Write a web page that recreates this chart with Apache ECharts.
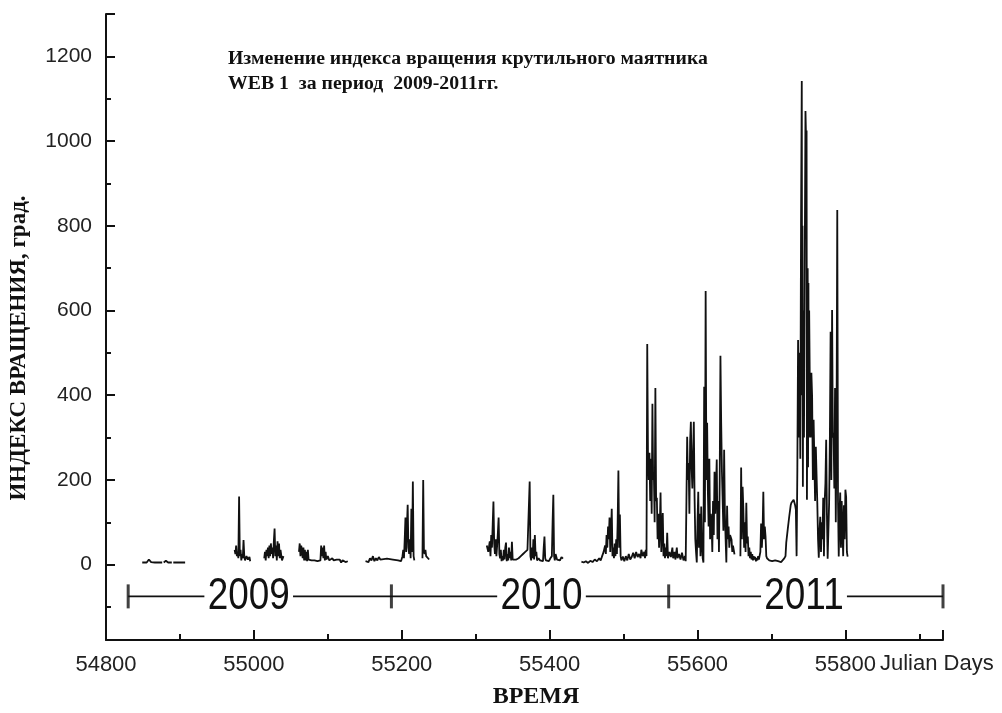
<!DOCTYPE html>
<html><head><meta charset="utf-8">
<script src="https://cdn.jsdelivr.net/npm/echarts@6/dist/echarts.min.js"></script>
<style>html,body{margin:0;padding:0;background:#fff}#c{width:1002px;height:713px}</style>
</head><body><div id="c"></div>
<script>
// ---- texts ----
const titleLines = ['Изменение индекса вращения крутильного маятника', 'WEB 1  за период  2009-2011гг.'];
const yAxisName = 'ИНДЕКС ВРАЩЕНИЯ, град.';
const xAxisTitle = 'ВРЕМЯ';
const xUnitLabel = 'Julian Days';
const xTickLabels = [54800, 55000, 55200, 55400, 55600, 55800];
const yTickLabels = [0, 200, 400, 600, 800, 1000, 1200];
// ---- year bar ----
const yearLabels = ['2009', '2010', '2011'];
const yearLabelDays = [54993, 55389, 55744];
const yearBoundDays = [54830, 55186, 55561, 55932];
const yearBarLevel = -75;
// ---- data segments [Julian day, index] ----
const seg1 = [[54849,5],[54855,5],[54858,12],[54861,6],[54866,5],[54872,5],[54876,5]];
const seg2 = [[54878,5],[54881,9],[54884,5],[54889,5]];
const seg3 = [[54891,5],[54899,5],[54907,5]];
const seg4 = [[54974,35],[54975,25],[54976,45],[54977,20],[54978,30],[54979,15],[54980,161],[54981,20],[54982,35],[54983,10],[54984,25],[54985,15],[54986,58],[54987,20],[54988,10],[54990,20],[54992,12],[54994,18],[54995,8]];
const seg5 = [[55014,15],[55015,30],[55016,10],[55017,35],[55018,20],[55019,40],[55020,15],[55021,45],[55022,20],[55023,50],[55024,25],[55025,40],[55026,15],[55027,55],[55028,85],[55029,20],[55030,45],[55031,10],[55032,55],[55033,20],[55034,50],[55035,15],[55036,35],[55038,10],[55040,20]];
const seg6 = [[55061,30],[55062,50],[55063,20],[55064,45],[55065,35],[55066,15],[55067,40],[55068,10],[55069,35],[55070,10],[55071,30],[55072,8],[55073,35],[55074,12],[55076,15],[55078,10],[55080,12],[55082,10],[55084,10],[55086,8],[55088,10],[55090,10],[55091,45],[55092,20],[55093,40],[55094,15],[55095,45],[55096,10],[55097,30],[55098,12],[55100,20],[55102,10],[55104,8],[55106,15],[55108,10],[55110,8],[55112,12],[55114,8],[55116,12],[55118,5],[55120,10],[55122,8],[55124,6],[55127,8]];
const seg7 = [[55151,8],[55153,12],[55155,6],[55157,15],[55159,10],[55161,20],[55163,8],[55165,15],[55167,10],[55169,18],[55171,12],[55173,14],[55180,14],[55188,12],[55195,10],[55199,8],[55201,20],[55202,35],[55203,15],[55204,60],[55205,111],[55206,30],[55207,90],[55208,141],[55209,40],[55210,25],[55211,60],[55212,15],[55213,132],[55214,30],[55215,196],[55216,20],[55217,10]];
const seg8 = [[55228,15],[55229,200],[55230,30],[55231,25],[55232,35],[55233,20],[55235,18],[55237,12]];
const seg9 = [[55315,45],[55317,30],[55319,55],[55320,20],[55321,70],[55322,40],[55323,95],[55324,149],[55325,50],[55326,25],[55327,60],[55328,20],[55329,45],[55330,75],[55331,111],[55332,25],[55333,15],[55334,35],[55335,8],[55336,20],[55337,10],[55338,35],[55339,12],[55340,40],[55341,52],[55342,8],[55343,25],[55344,10],[55345,40],[55346,15],[55347,30],[55348,10],[55349,54],[55350,12],[55352,8],[55355,12],[55358,15],[55361,20],[55364,25],[55367,30],[55370,35],[55372,38],[55373,196],[55374,20],[55375,10],[55376,40],[55377,15],[55378,60],[55379,12],[55380,70],[55381,20],[55382,30],[55383,10],[55385,15],[55387,10],[55389,12],[55391,8],[55392,40],[55393,66],[55394,15],[55395,10],[55397,12],[55399,8],[55401,15],[55403,20],[55404,100],[55405,165],[55406,20],[55407,10],[55408,25],[55410,12],[55412,15],[55414,10],[55416,18],[55418,14]];
const seg10 = [[55443,7],[55446,5],[55449,8],[55452,4],[55455,9],[55458,6],[55461,12],[55464,8],[55467,15],[55469,10],[55471,20],[55473,30],[55475,45],[55476,25],[55477,70],[55478,40],[55479,90],[55480,60],[55481,111],[55482,30],[55483,80],[55484,132],[55485,20],[55486,40],[55487,15],[55488,50],[55489,20],[55490,60],[55491,25],[55492,100],[55493,222],[55494,40],[55495,118],[55496,20],[55497,10],[55499,19],[55501,8],[55503,20],[55505,10],[55507,25],[55509,12],[55511,18],[55513,28],[55515,15],[55517,30],[55519,18],[55521,25],[55523,15],[55524,35],[55526,20],[55528,30],[55529,15],[55530,35],[55531,20],[55532,521],[55533,260],[55534,200],[55535,264],[55536,150],[55537,250],[55538,120],[55539,380],[55540,200],[55541,212],[55542,100],[55543,417],[55544,150],[55545,158],[55546,60],[55547,120],[55548,40],[55549,90],[55550,170],[55551,30],[55552,80],[55553,122],[55554,20],[55555,50],[55556,15],[55557,40],[55558,20],[55559,75],[55560,15],[55562,30],[55564,18],[55566,40],[55567,15],[55569,30],[55570,12],[55572,40],[55573,15],[55575,25],[55577,12],[55579,28],[55581,10],[55583,20],[55584,8],[55585,150],[55586,302],[55587,200],[55588,240],[55589,120],[55590,290],[55591,337],[55592,230],[55593,180],[55594,260],[55595,337],[55596,160],[55597,60],[55598,30],[55599,5],[55600,100],[55601,172],[55602,40],[55603,120],[55604,20],[55605,137],[55606,50],[55607,15],[55608,5],[55609,420],[55610,100],[55611,646],[55612,200],[55613,335],[55614,172],[55615,90],[55616,250],[55617,60],[55618,120],[55619,100],[55620,30],[55621,150],[55622,70],[55623,219],[55624,120],[55625,180],[55626,248],[55627,60],[55628,150],[55629,30],[55630,200],[55631,493],[55632,335],[55633,220],[55634,150],[55635,80],[55636,271],[55637,120],[55638,60],[55639,5],[55640,139],[55641,60],[55642,90],[55643,40],[55644,70],[55646,59],[55647,30],[55648,45],[55650,24]];
const seg11 = [[55658,20],[55659,229],[55660,60],[55661,184],[55662,130],[55663,40],[55664,100],[55665,30],[55666,146],[55667,50],[55668,66],[55669,20],[55670,40],[55671,15],[55672,30],[55673,12],[55674,25],[55675,10],[55676,20],[55677,12],[55678,18],[55679,8],[55680,15],[55681,10],[55682,20],[55683,12],[55684,15],[55685,30],[55686,97],[55687,40],[55688,80],[55689,172],[55690,60],[55691,90],[55692,66],[55693,20],[55694,15],[55695,12],[55697,10],[55699,14],[55701,8],[55703,12],[55705,10],[55707,14],[55709,8],[55711,12],[55713,6],[55715,10],[55717,14],[55719,20],[55720,52],[55722,83],[55724,113],[55726,140],[55727,146],[55729,150],[55730,153],[55732,140],[55733,130],[55734,20],[55735,224],[55736,530],[55737,300],[55738,500],[55739,250],[55740,800],[55741,1142],[55741.5,400],[55742,800],[55742.5,184],[55743,600],[55744,300],[55745,700],[55746,1071],[55746.5,1030],[55747,990],[55747.5,1025],[55748,153],[55749,700],[55749.5,230],[55750,665],[55750.5,300],[55751,600],[55752,400],[55753,300],[55754,453],[55755,396],[55756,200],[55757,342],[55758,250],[55759,150],[55760,278],[55762,146],[55763,60],[55764,16],[55765,80],[55766,113],[55767,30],[55768,100],[55769,60],[55770,158],[55771,20],[55772,150],[55773,193],[55774,295],[55775,120],[55776,14],[55777,80],[55778,146],[55779,300],[55780,550],[55781,200],[55782,601],[55783,300],[55784,311],[55785,180],[55786,417],[55787,100],[55788,300],[55789,837],[55790,150],[55791,19],[55792,120],[55793,170],[55794,40],[55795,150],[55796,153],[55797,20],[55798,140],[55799,60],[55800,177],[55801,160],[55802,30],[55803,19]];
const segments = [seg1, seg2, seg3, seg4, seg5, seg6, seg7, seg8, seg9, seg10, seg11];

const sans = "'Liberation Sans', Arial, sans-serif";
const serif = "'Liberation Serif', 'Times New Roman', serif";
const ink = '#111';

const chart = echarts.init(document.getElementById('c'), null, {renderer: 'canvas'});

const dataSeries = segments.map(seg => ({
  type: 'line', data: seg, showSymbol: false, symbol: 'none', animation: false,
  lineStyle: {color: ink, width: 1.8}, z: 3, silent: true
}));

const yBase = {
  type: 'value', min: -178, max: 1300, gridIndex: 0, position: 'left', offset: 0,
  splitLine: {show: false}
};

chart.setOption({
  animation: false,
  backgroundColor: '#fff',
  graphic: [
    {type: 'text', x: 228, y: 59, style: {text: titleLines[0], font: 'bold 19.75px ' + serif, fill: '#111', align: 'left', verticalAlign: 'middle'}},
    {type: 'text', x: 228, y: 84, style: {text: titleLines[1], font: 'bold 19.75px ' + serif, fill: '#111', align: 'left', verticalAlign: 'middle'}},
    {type: 'text', x: 536, y: 697, style: {text: xAxisTitle, font: 'bold 24px ' + serif, fill: '#111', align: 'center', verticalAlign: 'middle'}},
    {type: 'text', x: 880, y: 664, style: {text: xUnitLabel, font: '22px ' + sans, fill: '#222', align: 'left', verticalAlign: 'middle'}}
  ],
  grid: {left: 106, right: 59, top: 14, bottom: 73, containLabel: false, outerBoundsMode: 'none'},
  xAxis: {
    type: 'value', min: 54800, max: 55932, interval: 200,
    axisLine: {show: true, onZero: false, lineStyle: {color: ink, width: 2}},
    axisTick: {show: true, inside: true, length: 10, lineStyle: {color: ink, width: 2}},
    minorTick: {show: true, splitNumber: 2, length: 6, lineStyle: {color: ink, width: 2}},
    splitLine: {show: false},
    axisLabel: {formatter: v => xTickLabels.includes(v) ? String(v) : '', fontFamily: sans, fontSize: 22, color: '#222', margin: 14}
  },
  yAxis: [
    Object.assign({}, yBase, {
      minInterval: 100, maxInterval: 100, splitNumber: 15,
      axisLine: {show: true, onZero: false, lineStyle: {color: ink, width: 2}},
      axisTick: {show: true, inside: true, length: 5, lineStyle: {color: ink, width: 2}},
      axisLabel: {formatter: v => yTickLabels.includes(v) ? String(v) : '', fontFamily: sans, fontSize: 21, color: '#222', margin: 14},
      name: yAxisName, nameLocation: 'middle', nameGap: 75, nameRotate: 90,
      nameTextStyle: {fontFamily: serif, fontWeight: 'bold', fontSize: 23, color: '#111', padding: [0, 42, 0, 0]}
    }),
    Object.assign({}, yBase, {
      minInterval: 200, maxInterval: 200, splitNumber: 7,
      axisLine: {show: false},
      axisTick: {show: true, inside: true, length: 9, lineStyle: {color: ink, width: 2}},
      axisLabel: {show: false}
    })
  ],
  series: [
    {type: 'line', data: [[yearBoundDays[0], yearBarLevel], [yearBoundDays[yearBoundDays.length - 1], yearBarLevel]],
     showSymbol: false, symbol: 'none', lineStyle: {color: ink, width: 1.6}, z: 2, silent: true},
    {type: 'scatter', data: yearBoundDays.map(d => [d, yearBarLevel]), symbol: 'rect', symbolSize: [3, 24],
     itemStyle: {color: ink}, z: 4, silent: true},
    {type: 'custom', data: yearLabelDays.map(d => [d, yearBarLevel]), z: 5, silent: true,
     renderItem: (params, api) => {
       const p = api.coord([api.value(0), api.value(1)]);
       return {type: 'text', x: p[0], y: p[1], scaleX: 0.82, scaleY: 1,
         style: {text: yearLabels[params.dataIndex], font: '45px ' + sans, fill: '#111',
           align: 'center', verticalAlign: 'middle', backgroundColor: '#fff', padding: [0, 4]}};
     }},
    ...dataSeries
  ]
});
</script></body></html>
